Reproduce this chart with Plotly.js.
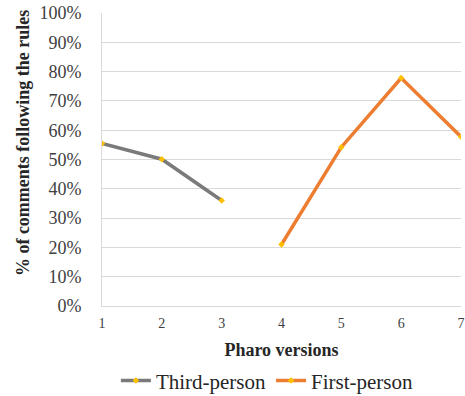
<!DOCTYPE html>
<html>
<head>
<meta charset="utf-8">
<script src="https://cdn.plot.ly/plotly-3.0.1.min.js"></script>
<style>html,body{margin:0;padding:0;background:#fff;}#chart{width:465px;height:396px;}</style>
</head>
<body>
<div id="chart"></div>
<script>
var thirdX = [1, 2, 3];
var thirdY = [0.555, 0.501, 0.36];
var firstX = [4, 5, 6, 7];
var firstY = [0.21, 0.542, 0.778, 0.578];
var yTickVals = [0, 0.1, 0.2, 0.3, 0.4, 0.5, 0.6, 0.7, 0.8, 0.9, 1.0];
var yTickText = ['0%', '10%', '20%', '30%', '40%', '50%', '60%', '70%', '80%', '90%', '100%'];
var xTickVals = [1, 2, 3, 4, 5, 6, 7];

var font = '"Liberation Serif", "Times New Roman", "DejaVu Serif", serif';
var traces = [
  {x: thirdX, y: thirdY, name: 'Third-person', type: 'scatter', mode: 'lines+markers',
   line: {color: '#7a7a7a', width: 3.5}, marker: {symbol: 'diamond', size: 5, color: '#ffc000'}},
  {x: firstX, y: firstY, name: 'First-person', type: 'scatter', mode: 'lines+markers',
   line: {color: '#ed7d31', width: 3.5}, marker: {symbol: 'diamond', size: 5, color: '#ffc000'}}
];
var layout = {
  width: 465, height: 396,
  margin: {l: 102, r: 4, t: 13, b: 90},
  paper_bgcolor: '#fff', plot_bgcolor: '#fff',
  font: {family: font, color: '#262626'},
  showlegend: true,
  legend: {orientation: 'h', xref: 'container', x: 0.575, xanchor: 'center',
           yref: 'container', y: 0.038, yanchor: 'middle',
           font: {family: font, size: 21, color: '#262626'}, itemwidth: 30, tracegroupgap: 0},
  xaxis: {range: [1, 7], tickvals: xTickVals, ticktext: xTickVals.map(String),
          showgrid: false, zeroline: false, showline: true, linecolor: '#d9d9d9', linewidth: 1,
          ticks: '', tickfont: {family: font, size: 14, color: '#404040'}, ticklabelstandoff: 4,
          title: {text: '<b>Pharo versions</b>', font: {family: font, size: 18, color: '#262626'}, standoff: 16}},
  yaxis: {range: [0, 1], tickvals: yTickVals, ticktext: yTickText,
          showgrid: true, gridcolor: '#d9d9d9', gridwidth: 1, zeroline: false,
          showline: true, linecolor: '#d9d9d9', linewidth: 1,
          ticks: 'outside', ticklen: 16, tickcolor: 'rgba(0,0,0,0)',
          tickfont: {family: font, size: 18, color: '#404040'}},
  annotations: [{text: '<b>% of comments following the rules</b>', textangle: -90,
    xref: 'paper', yref: 'paper', x: -0.22, y: 0.556, xanchor: 'center', yanchor: 'middle',
    showarrow: false, font: {family: font, size: 18, color: '#262626'}}]
};
Plotly.newPlot('chart', traces, layout, {displayModeBar: false, responsive: false});
</script>
</body>
</html>
